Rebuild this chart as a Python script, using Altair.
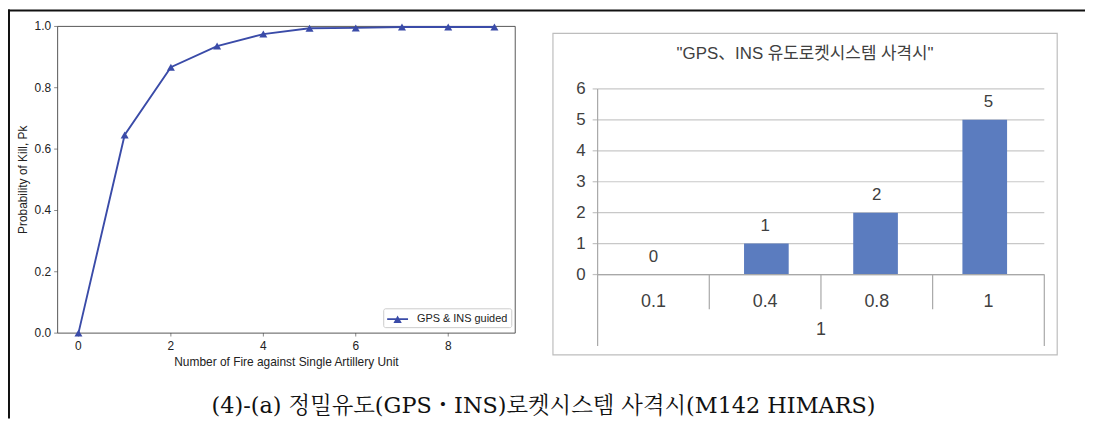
import altair as alt
import pandas as pd

# ---------------- data ----------------
shots = [0, 1, 2, 3, 4, 5, 6, 7, 8, 9]
pk = [0.0, 0.646, 0.867, 0.936, 0.975, 0.994, 0.995, 0.998, 0.998, 0.998]
series_name = "GPS & INS guided"
left_xticks = [0, 2, 4, 6, 8]
left_yticks = [0.0, 0.2, 0.4, 0.6, 0.8, 1.0]
left_xdomain = [-0.45, 9.45]
left_ydomain = [0.0, 1.0]
left_xtitle = "Number of Fire against Single Artillery Unit"
left_ytitle = "Probability of Kill, Pk"

bar_cats = ["0.1", "0.4", "0.8", "1"]
bar_counts = [0, 1, 2, 5]
bar_group = "1"
right_yticks = [0, 1, 2, 3, 4, 5, 6]
right_title = '"GPS、INS 유도로켓시스템 사격시"'
caption = "(4)-(a) 정밀유도(GPS・INS)로켓시스템 사격시(M142 HIMARS)"

# ---------------- layout / style ----------------
W, H = 1085, 412
XL_RANGE = [50, 511]
YL_RANGE = [326, 17]
XR_DOMAIN = [-0.5, len(bar_cats) - 0.5]
YR_DOMAIN = [0, 6]
XR_RANGE = [594, 1044]
YR_RANGE = [267, 80]

FONT_L = "Liberation Sans, sans-serif"
FONT_R = "Liberation Sans, Noto Sans CJK KR, sans-serif"
FONT_CAP = "DejaVu Serif, Noto Serif CJK KR, Noto Sans CJK KR, serif"

LINE_C = "#3A4BA8"
SPINE_C = "#444444"
TXT_L = "#222222"
BAR_C = "#5B7CBF"
GRID_C = "#C8C8C8"
AXIS_C = "#A8A8A8"
TXT_R = "#404040"

XL = alt.Scale(domain=left_xdomain, range=XL_RANGE, nice=False, zero=False)
YL = alt.Scale(domain=left_ydomain, range=YL_RANGE, nice=False, zero=False)
XR = alt.Scale(domain=XR_DOMAIN, range=XR_RANGE, nice=False, zero=False)
YR = alt.Scale(domain=YR_DOMAIN, range=YR_RANGE, nice=False, zero=False)

one = pd.DataFrame({"k": [0]})

df_line = pd.DataFrame({"n": shots, "pk": pk, "series": series_name})
df_xt = pd.DataFrame({"v": left_xticks, "lab": [str(v) for v in left_xticks]})
df_yt = pd.DataFrame({"v": left_yticks, "lab": [f"{v:.1f}" for v in left_yticks]})

df_bar = pd.DataFrame({"idx": list(range(len(bar_cats))), "cat": bar_cats, "cnt": bar_counts})
df_ry = pd.DataFrame({"v": right_yticks, "lab": [str(v) for v in right_yticks]})
df_div = pd.DataFrame({"b": [i + 0.5 for i in range(len(bar_cats) - 1)]})

LEG_PATH = "M-1,-0.13H2V0.13H-1Z M-0.1,0.55L0.5,-0.55L1.1,0.55Z"

layers = []

# ---------- left panel ----------
layers.append(
    alt.Chart(one).mark_rect(fillOpacity=0, stroke=SPINE_C, strokeWidth=0.9).encode(
        x=alt.X(datum=left_xdomain[0], scale=XL, axis=None),
        x2=alt.X2(datum=left_xdomain[1]),
        y=alt.Y(datum=left_ydomain[0], scale=YL, axis=None),
        y2=alt.Y2(datum=left_ydomain[1]),
    )
)
layers.append(
    alt.Chart(df_xt).mark_tick(orient="vertical", size=3.5, thickness=0.9, color=SPINE_C, yOffset=1.75).encode(
        x=alt.X("v:Q", scale=XL, axis=None), y=alt.Y(datum=0, scale=YL, axis=None)
    )
)
layers.append(
    alt.Chart(df_xt).mark_text(font=FONT_L, fontSize=12, color=TXT_L, baseline="middle", dy=13.5).encode(
        x=alt.X("v:Q", scale=XL, axis=None), y=alt.Y(datum=0, scale=YL, axis=None), text="lab:N"
    )
)
layers.append(
    alt.Chart(df_yt).mark_tick(orient="horizontal", size=3.5, thickness=0.9, color=SPINE_C, xOffset=-1.75).encode(
        x=alt.X(datum=left_xdomain[0], scale=XL, axis=None), y=alt.Y("v:Q", scale=YL, axis=None)
    )
)
layers.append(
    alt.Chart(df_yt).mark_text(font=FONT_L, fontSize=12, color=TXT_L, baseline="middle", align="right", dx=-6.5).encode(
        x=alt.X(datum=left_xdomain[0], scale=XL, axis=None), y=alt.Y("v:Q", scale=YL, axis=None), text="lab:N"
    )
)
layers.append(
    alt.Chart(one).mark_text(font=FONT_L, fontSize=12, color=TXT_L, baseline="middle", dy=29).encode(
        x=alt.X(datum=(left_xdomain[0] + left_xdomain[1]) / 2, scale=XL, axis=None),
        y=alt.Y(datum=0, scale=YL, axis=None),
        text=alt.value(left_xtitle),
    )
)
layers.append(
    alt.Chart(one).mark_text(font=FONT_L, fontSize=12, color=TXT_L, baseline="middle", angle=270, xOffset=-35).encode(
        x=alt.X(datum=left_xdomain[0], scale=XL, axis=None),
        y=alt.Y(datum=0.5, scale=YL, axis=None),
        text=alt.value(left_ytitle),
    )
)
layers.append(
    alt.Chart(df_line).mark_line(color=LINE_C, strokeWidth=1.9).encode(
        x=alt.X("n:Q", scale=XL, axis=None), y=alt.Y("pk:Q", scale=YL, axis=None)
    )
)
layers.append(
    alt.Chart(df_line).mark_point(shape="triangle-up", filled=True, size=65, opacity=1).encode(
        x=alt.X("n:Q", scale=XL, axis=None),
        y=alt.Y("pk:Q", scale=YL, axis=None),
        color=alt.Color(
            "series:N",
            scale=alt.Scale(domain=[series_name], range=[LINE_C]),
            legend=alt.Legend(
                title=None, orient="none", legendX=378, legendY=301,
                symbolType=LEG_PATH, symbolSize=196, symbolOpacity=1,
                labelFont=FONT_L, labelFontSize=11, labelColor=TXT_L, labelOffset=15,
                padding=3, strokeColor="#CCCCCC", fillColor="white", cornerRadius=2,
            ),
        ),
    )
)

# ---------- right panel ----------
layers.append(
    alt.Chart(one).mark_rect(fillOpacity=0, stroke="#BDBDBD", strokeWidth=1.2).encode(
        x=alt.value(549), x2=alt.value(1057), y=alt.value(24), y2=alt.value(348)
    )
)
layers.append(
    alt.Chart(one).mark_text(font=FONT_R, fontSize=17, color=TXT_R, baseline="middle").encode(
        x=alt.value(803), y=alt.value(45), text=alt.value(right_title)
    )
)
layers.append(
    alt.Chart(df_ry).mark_rule(color=GRID_C, strokeWidth=1.2).encode(
        x=alt.X(datum=XR_DOMAIN[0], scale=XR, axis=None), x2=alt.X2(datum=XR_DOMAIN[1]),
        y=alt.Y("v:Q", scale=YR, axis=None),
    )
)
layers.append(
    alt.Chart(df_bar).mark_bar(size=45, color=BAR_C).encode(
        x=alt.X("idx:Q", scale=XR, axis=None), y=alt.Y("cnt:Q", scale=YR, axis=None)
    )
)
layers.append(
    alt.Chart(df_ry).mark_tick(orient="horizontal", size=5, thickness=1.2, color=AXIS_C, xOffset=-2.5).encode(
        x=alt.X(datum=XR_DOMAIN[0], scale=XR, axis=None), y=alt.Y("v:Q", scale=YR, axis=None)
    )
)
layers.append(
    alt.Chart(df_ry).mark_text(font=FONT_R, fontSize=17, color=TXT_R, baseline="middle", align="right", dx=-12).encode(
        x=alt.X(datum=XR_DOMAIN[0], scale=XR, axis=None), y=alt.Y("v:Q", scale=YR, axis=None), text="lab:N"
    )
)
layers.append(
    alt.Chart(one).mark_rule(color=AXIS_C, strokeWidth=1.2).encode(
        x=alt.X(datum=XR_DOMAIN[0], scale=XR, axis=None), x2=alt.X2(datum=XR_DOMAIN[1]),
        y=alt.Y(datum=0, scale=YR, axis=None),
    )
)
layers.append(
    alt.Chart(one).mark_rule(color=AXIS_C, strokeWidth=1.2).encode(
        x=alt.X(datum=XR_DOMAIN[0], scale=XR, axis=None),
        y=alt.Y(datum=YR_DOMAIN[1], scale=YR, axis=None), y2=alt.value(339),
    )
)
layers.append(
    alt.Chart(one).mark_rule(color=AXIS_C, strokeWidth=1.2).encode(
        x=alt.X(datum=XR_DOMAIN[1], scale=XR, axis=None),
        y=alt.Y(datum=0, scale=YR, axis=None), y2=alt.value(339),
    )
)
layers.append(
    alt.Chart(df_div).mark_rule(color=AXIS_C, strokeWidth=1.2).encode(
        x=alt.X("b:Q", scale=XR, axis=None),
        y=alt.Y(datum=0, scale=YR, axis=None), y2=alt.value(302),
    )
)
layers.append(
    alt.Chart(df_bar).mark_text(font=FONT_R, fontSize=17, color=TXT_R, baseline="middle", dy=-18).encode(
        x=alt.X("idx:Q", scale=XR, axis=None), y=alt.Y("cnt:Q", scale=YR, axis=None), text="cnt:N"
    )
)
layers.append(
    alt.Chart(df_bar).mark_text(font=FONT_R, fontSize=18, color=TXT_R, baseline="middle", dy=28).encode(
        x=alt.X("idx:Q", scale=XR, axis=None), y=alt.Y(datum=0, scale=YR, axis=None), text="cat:N"
    )
)
layers.append(
    alt.Chart(one).mark_text(font=FONT_R, fontSize=18, color=TXT_R, baseline="middle", dy=56).encode(
        x=alt.X(datum=(XR_DOMAIN[0] + XR_DOMAIN[1]) / 2, scale=XR, axis=None),
        y=alt.Y(datum=0, scale=YR, axis=None), text=alt.value(bar_group),
    )
)

# ---------- caption & frame ----------
layers.append(
    alt.Chart(one).mark_text(font=FONT_CAP, fontSize=22.5, color="#111111", baseline="alphabetic").encode(
        x=alt.value(539.5), y=alt.value(406), text=alt.value(caption)
    )
)
layers.append(
    alt.Chart(one).mark_rule(color="#111111", strokeWidth=2).encode(
        x=alt.value(0), x2=alt.value(W), y=alt.value(1)
    )
)
layers.append(
    alt.Chart(one).mark_rule(color="#111111", strokeWidth=2).encode(
        x=alt.value(1), y=alt.value(0), y2=alt.value(H)
    )
)

chart = (
    alt.layer(*layers)
    .resolve_scale(x="independent", y="independent")
    .properties(width=W, height=H, padding=0, autosize=alt.AutoSizeParams(type="none"))
    .configure_view(stroke=None)
)

chart.save("out.html", embed_options={"renderer": "svg", "actions": False})
